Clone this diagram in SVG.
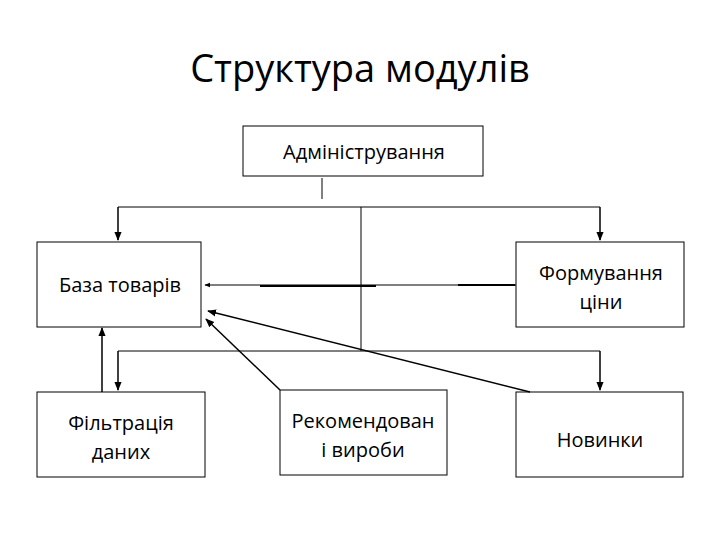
<svg xmlns="http://www.w3.org/2000/svg" width="720" height="540" viewBox="0 0 720 540">
<style>
.box{fill:#fff;stroke:#000;stroke-width:1}
.t{font-family:"Open Sans","Liberation Sans",sans-serif;font-size:20px;text-anchor:middle;fill:#000}
.c{fill:none;stroke:#000;stroke-width:1}
.a{fill:none;stroke:#000;stroke-width:1.5;marker-end:url(#ar)}
</style>
<defs><marker id="ar" viewBox="0 0 10 10" refX="9" refY="5" markerWidth="6" markerHeight="6" orient="auto"><path d="M0,1 L10,5 L0,9z" fill="#000"/></marker></defs>
<rect width="720" height="540" fill="#fff"/>
<text x="360" y="82" style="font-family:'Open Sans','Liberation Sans',sans-serif;font-size:38px;text-anchor:middle">Структура модулів</text>
<g id="admin"><rect class="box" x="243" y="126" width="240" height="50"/><text class="t" x="364" y="159">Адміністрування</text></g>
<g id="baza"><rect class="box" x="37" y="242" width="164" height="85"/><text class="t" x="120" y="292">База товарів</text></g>
<g id="form"><rect class="box" x="516" y="242" width="168" height="85"/><text class="t" x="601" y="280">Формування</text><text class="t" x="601" y="309">ціни</text></g>
<g id="filtr"><rect class="box" x="37" y="392" width="168" height="85"/><text class="t" x="121" y="430">Фільтрація</text><text class="t" x="121" y="459">даних</text></g>
<g id="rek"><rect class="box" x="280" y="390" width="167" height="85"/><text class="t" x="363" y="428">Рекомендован</text><text class="t" x="363" y="457">і вироби</text></g>
<g id="nov"><rect class="box" x="516" y="392" width="167" height="85"/><text class="t" x="600" y="447">Новинки</text></g>
<g id="connectors">
<path class="c" d="M322,178 V199 M118,207 H600 M361,207 V351 M118,351 H600"/>
<path class="a" d="M118,207 V240"/><path class="a" d="M600,207 V240"/>
<path class="a" d="M118,351 V390"/><path class="a" d="M600,351 V390"/>
<path class="a" d="M516,285 H205" style="stroke-width:1"/>
<path class="c" d="M260,286 H376 M458,285 H515" style="stroke-width:2"/>
<path class="a" d="M102,392 V328"/>
<path class="a" d="M280,390 L206,319"/>
<path class="a" d="M530,392 L208,311"/>
</g>
</svg>
